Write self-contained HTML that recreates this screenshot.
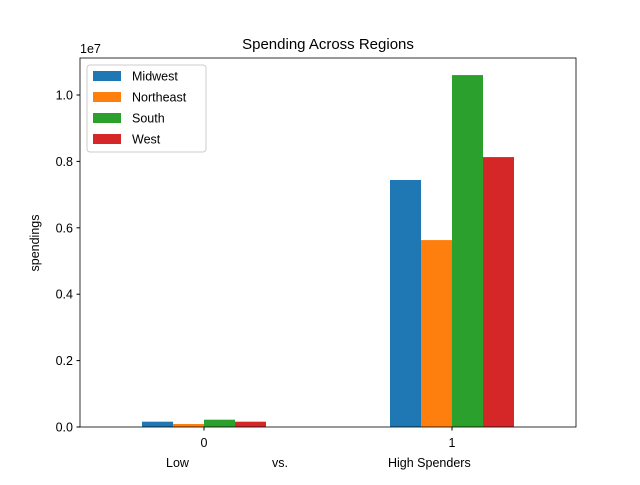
<!DOCTYPE html>
<html><head><meta charset="utf-8"><style>
body{margin:0;background:#fff}
svg{font-family:"Liberation Sans","DejaVu Sans",sans-serif}
</style></head><body>
<svg id="chart" width="640" height="480">
<rect width="640" height="480" fill="#fff"/>
<g id="bars"></g>
<rect x="80" y="58" width="496" height="369" fill="none" stroke="#000" stroke-width="0.8"/>
<g id="axes" font-size="12.5" fill="#000"></g>
<text x="328" y="49" text-anchor="middle" font-size="15">Spending Across Regions</text>
<text x="80" y="53" font-size="12.5">1e7</text>
<text x="39" y="243" text-anchor="middle" font-size="12.5" transform="rotate(-90 39 243)">spendings</text>
<text x="166" y="467" font-size="12.5">Low</text>
<text x="272" y="467" font-size="12.5">vs.</text>
<text x="388" y="467" font-size="12.5">High Spenders</text>
<g>
<rect x="87" y="65" width="119" height="87" rx="3" fill="#fff" fill-opacity="0.8" stroke="#ccc"/>
<g id="legend-items" font-size="12.5"></g>
</g>
</svg>
<script>
const categories=["0","1"];
const seriesNames=["Midwest","Northeast","South","West"];
const colors=["#1f77b4","#ff7f0e","#2ca02c","#d62728"];
const midwest=[0.016,0.744];
const northeast=[0.009,0.563];
const south=[0.022,1.06];
const west=[0.016,0.813];
const yTicks=[0,0.2,0.4,0.6,0.8,1.0];
const yTickLabels=["0.0","0.2","0.4","0.6","0.8","1.0"];
const series=[midwest,northeast,south,west];
const NS="http://www.w3.org/2000/svg";
const xScale=v=>80+(v+0.5)*248;
const yScale=v=>427-v*332;
const bars=document.getElementById('bars');
const axes=document.getElementById('axes');
series.forEach((s,si)=>{
  s.forEach((v,ci)=>{
    const r=document.createElementNS(NS,'rect');
    const x0=xScale(ci-0.25+si*0.125);
    r.setAttribute('x',x0);r.setAttribute('width',0.125*248);
    r.setAttribute('y',yScale(v));r.setAttribute('height',yScale(0)-yScale(v));
    r.setAttribute('fill',colors[si]);
    
    
    bars.appendChild(r);
  });
});
yTicks.forEach((t,i)=>{
  const y=yScale(t);
  const l=document.createElementNS(NS,'line');
  l.setAttribute('x1',76.5);l.setAttribute('x2',80);l.setAttribute('y1',y);l.setAttribute('y2',y);l.setAttribute('stroke','#000');
  
  
  axes.appendChild(l);
  const tx=document.createElementNS(NS,'text');
  tx.setAttribute('x',73);tx.setAttribute('y',y+4.5);tx.setAttribute('text-anchor','end');tx.textContent=yTickLabels[i];
  
  
  axes.appendChild(tx);
});
categories.forEach((c,i)=>{
  const x=xScale(i);
  const l=document.createElementNS(NS,'line');
  l.setAttribute('x1',x);l.setAttribute('x2',x);l.setAttribute('y1',427);l.setAttribute('y2',430.5);l.setAttribute('stroke','#000');
  
  
  axes.appendChild(l);
  const tx=document.createElementNS(NS,'text');
  tx.setAttribute('x',x);tx.setAttribute('y',447);tx.setAttribute('text-anchor','middle');tx.textContent=c;
  
  
  axes.appendChild(tx);
});
const leg=document.getElementById('legend-items');
seriesNames.forEach((n,i)=>{
  const y=76+i*21;
  const r=document.createElementNS(NS,'rect');
  r.setAttribute('x',93);r.setAttribute('y',y-5);r.setAttribute('width',28);r.setAttribute('height',10);r.setAttribute('fill',colors[i]);
  
  
  leg.appendChild(r);
  const t=document.createElementNS(NS,'text');
  t.setAttribute('x',132);t.setAttribute('y',y+4.5);t.textContent=n;
  
  
  leg.appendChild(t);
});
</script>
</body></html>
